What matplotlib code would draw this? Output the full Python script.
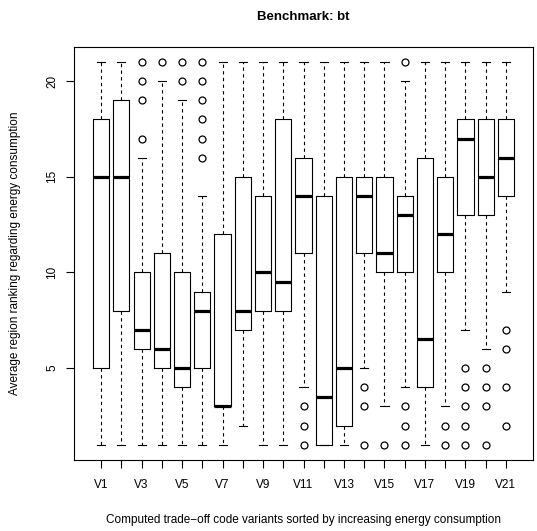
import matplotlib
matplotlib.use("Agg")
import matplotlib.pyplot as plt
import numpy as np

plt.rcParams['font.family'] = ['Liberation Sans', 'DejaVu Sans']

labels = ["V%d" % i for i in range(1, 22)]
medians = [15, 15, 7, 6, 5, 8, 3, 8, 10, 9.5, 14, 3.5, 5, 14, 11, 13, 6.5, 12, 17, 15, 16]
q1 = [5, 8, 6, 5, 4, 5, 3, 7, 8, 8, 11, 1, 2, 11, 10, 10, 4, 10, 13, 13, 14]
q3 = [18, 19, 10, 11, 10, 9, 12, 15, 14, 18, 16, 14, 15, 15, 15, 14, 16, 15, 18, 18, 18]
whis_lo = [1, 1, 1, 1, 1, 1, 1, 2, 1, 1, 4, 1, 1, 5, 3, 4, 1, 3, 7, 6, 9]
whis_hi = [21, 21, 16, 20, 19, 14, 21, 21, 21, 21, 21, 21, 21, 21, 21, 20, 21, 21, 21, 21, 21]
outliers = [
    [], [], [21, 20, 19, 17], [21], [21, 20], [21, 20, 19, 18, 17, 16],
    [], [], [], [], [3, 2, 1], [], [], [4, 3, 1], [1], [21, 3, 2, 1],
    [], [2, 1], [5, 4, 3, 2, 1], [5, 4, 3, 1], [7, 6, 4, 2],
]

stats = []
for i in range(len(labels)):
    stats.append(dict(med=medians[i], q1=q1[i], q3=q3[i],
                      whislo=whis_lo[i], whishi=whis_hi[i],
                      fliers=outliers[i], label=labels[i]))

fig = plt.figure(figsize=(5.37, 5.31), dpi=100)
ax = fig.add_axes([74 / 537, 1 - 460 / 531, (533 - 74) / 537, (460 - 46.7) / 531])

pos = np.arange(1, len(labels) + 1)
ax.bxp(stats, positions=pos, widths=0.8, capwidths=0.4, patch_artist=False,
       boxprops=dict(color='black', linewidth=0.8),
       medianprops=dict(color='black', linewidth=2.3, solid_capstyle='butt'),
       whiskerprops=dict(color='black', linewidth=0.8, linestyle=(0, (3, 3))),
       capprops=dict(color='black', linewidth=0.8),
       flierprops=dict(marker='o', markerfacecolor='none', markeredgecolor='black',
                       markersize=5, markeredgewidth=0.9, linestyle='none'))

ax.set_xlim(0.5 - 0.84, 21.5 + 0.84)
ax.set_ylim(0.2, 21.8)
ax.set_xticks(pos)
ax.set_xticklabels([l if i % 2 == 0 else "" for i, l in enumerate(labels)])
ax.set_yticks([5, 10, 15, 20])
ax.set_yticklabels(["5", "10", "15", "20"], rotation=90, va='center')
ax.tick_params(axis='both', length=5.5, width=0.8, labelsize=8.5, pad=6)
ax.tick_params(axis='x', pad=8)
for s in ax.spines.values():
    s.set_linewidth(0.8)

ax.set_title("Benchmark: bt", fontsize=9.5, fontweight='bold', pad=19)
ax.set_xlabel("Computed trade\u2212off code variants sorted by increasing energy consumption",
              fontsize=8.5, labelpad=17)
ax.set_ylabel("Average region ranking regarding energy consumption", fontsize=8.5, labelpad=18)

fig.savefig("out.png", dpi=100)
